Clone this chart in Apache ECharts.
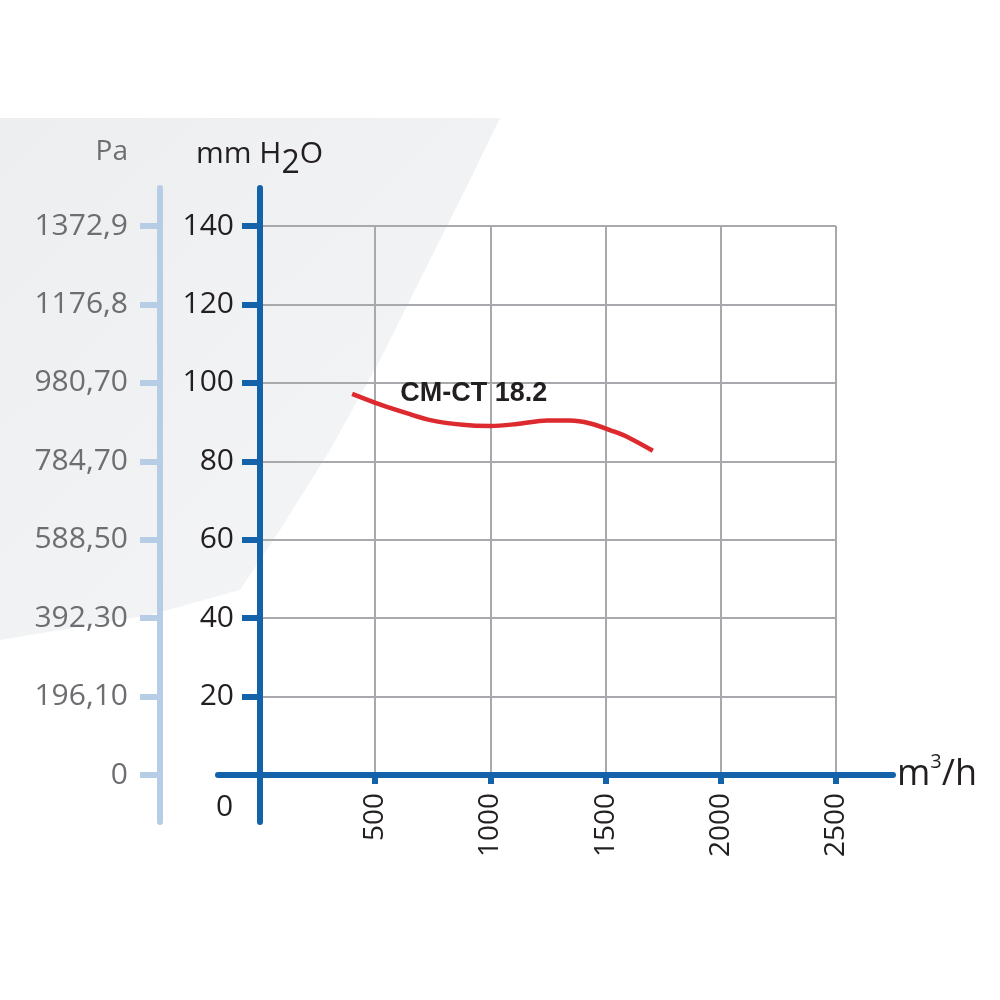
<!DOCTYPE html>
<html>
<head>
<meta charset="utf-8">
<title>CM-CT 18.2</title>
<script src="https://cdn.jsdelivr.net/npm/echarts@6/dist/echarts.min.js"></script>
<style>
html, body { margin: 0; padding: 0; background: #fff; }
#myChart { width: 1000px; height: 1000px; }
</style>
</head>
<body>
<div id="myChart"></div>
<script>
// curve: air flow (m3/h) and pressure (mm H2O)
const flow = [400, 520, 640, 740, 880, 1000, 1115, 1245, 1345, 1430, 1535, 1605, 1705];
const pressure = [97.2, 94.5, 92.2, 90.5, 89.3, 89.0, 89.5, 90.4, 90.4, 89.7, 87.6, 85.9, 82.7];
// Pa labels for the 0..140 mm H2O ticks
const paLabels = ['0', '196,10', '392,30', '588,50', '784,70', '980,70', '1176,8', '1372,9'];
const seriesName = 'CM-CT 18.2';

const blue = '#1462a9';
const paBlue = '#b7cde6';
const gridGray = '#a8a9ad';
const dark = '#231f20';
const gray = '#6d6e71';
const font = 'Open Sans';

let myChart = echarts.init(document.getElementById('myChart'));

let option = {
  animation: false,
  backgroundColor: '#fff',
  grid: [
    // plot area
    { left: 260, right: 164, top: 226, bottom: 225 },
    // only for the long axis lines
    { left: 218, right: 107, top: 188, bottom: 178 }
  ],
  xAxis: [
    {
      gridIndex: 0, type: 'value', min: 0, max: 2500, interval: 500,
      axisLine: { show: false },
      axisTick: { length: 9, lineStyle: { color: blue, width: 6 } },
      axisLabel: {
        rotate: 90, margin: 18, fontSize: 28, color: dark, fontFamily: font,
        formatter: v => (v === 0 ? '' : String(v))
      },
      splitLine: { showMinLine: false, lineStyle: { color: gridGray, width: 2 } }
    },
    {
      gridIndex: 1, type: 'value', min: -180, max: 2750,
      axisLine: { onZero: true, lineStyle: { color: blue, width: 6 } },
      axisTick: { show: false }, axisLabel: { show: false }, splitLine: { show: false },
      name: 'm{sup|3}/h', nameLocation: 'end', nameGap: 4,
      nameTextStyle: {
        fontSize: 36, color: dark, fontFamily: font,
        rich: { sup: { fontSize: 20, color: dark, fontFamily: font, padding: [0, 0, 26, 0] } }
      }
    }
  ],
  yAxis: [
    {
      gridIndex: 0, type: 'value', min: 0, max: 140, interval: 20,
      axisLine: { show: false },
      axisTick: { length: 18, lineStyle: { color: blue, width: 6 } },
      axisLabel: {
        margin: 26, fontSize: 30, color: dark, fontFamily: font,
        formatter: v => (v === 0 ? '' : String(v))
      },
      splitLine: { showMinLine: false, lineStyle: { color: gridGray, width: 2 } }
    },
    {
      gridIndex: 0, type: 'value', min: 0, max: 140, interval: 20,
      position: 'left', offset: 100,
      axisLine: { show: false },
      axisTick: { length: 20, lineStyle: { color: paBlue, width: 6 } },
      axisLabel: {
        margin: 32, fontSize: 30, color: gray, fontFamily: font,
        formatter: v => paLabels[Math.round(v / 20)]
      },
      splitLine: { show: false }
    },
    {
      gridIndex: 1, type: 'value', min: -12, max: 149.7,
      axisLine: { onZero: true, lineStyle: { color: blue, width: 6 } },
      axisTick: { show: false }, axisLabel: { show: false }, splitLine: { show: false },
      name: 'mm H{sub|2}O', nameLocation: 'end', nameGap: 8,
      nameTextStyle: {
        fontSize: 30, color: dark, fontFamily: font,
        rich: { sub: { fontSize: 32, color: dark, fontFamily: font, padding: [20, 0, 0, 0] } }
      }
    },
    {
      gridIndex: 1, type: 'value', min: -12, max: 149.7,
      position: 'left', offset: 58,
      axisLine: { onZero: false, lineStyle: { color: paBlue, width: 6 } },
      axisTick: { show: false }, axisLabel: { show: false }, splitLine: { show: false },
      name: 'Pa', nameLocation: 'end', nameGap: 22,
      nameTextStyle: { fontSize: 28, color: gray, fontFamily: font, align: 'right', padding: [0, 32, 0, 0] }
    }
  ],
  graphic: [
    {
      type: 'polygon', z: -100, silent: true,
      shape: {
        points: [[0, 118], [500, 118], [470, 180], [430, 260], [380, 360], [330, 450],
                 [280, 530], [240, 590], [150, 615], [0, 640]]
      },
      style: {
        fill: {
          type: 'linear', x: 0, y: 0, x2: 1, y2: 1,
          colorStops: [{ offset: 0, color: '#eceef0' }, { offset: 1, color: '#f5f6f7' }]
        }
      }
    },
    {
      type: 'text', left: 216, top: 792,
      style: { text: '0', fontSize: 30, fill: dark, fontFamily: font }
    }
  ],
  series: [
    {
      name: seriesName, type: 'line', xAxisIndex: 0, yAxisIndex: 0,
      smooth: 0.3, showSymbol: true, symbolSize: 0,
      lineStyle: { color: '#dc2a2e', width: 4.5 },
      itemStyle: { color: '#dc2a2e' },
      data: flow.map((f, i) => {
        let item = { value: [f, pressure[i]] };
        if (i === 0) {
          item.label = {
            show: true, position: 'right', distance: 48, formatter: seriesName,
            fontFamily: 'Liberation Sans', fontWeight: 'bold', fontSize: 27, color: dark
          };
        }
        return item;
      })
    }
  ]
};

myChart.setOption(option);
</script>
</body>
</html>
